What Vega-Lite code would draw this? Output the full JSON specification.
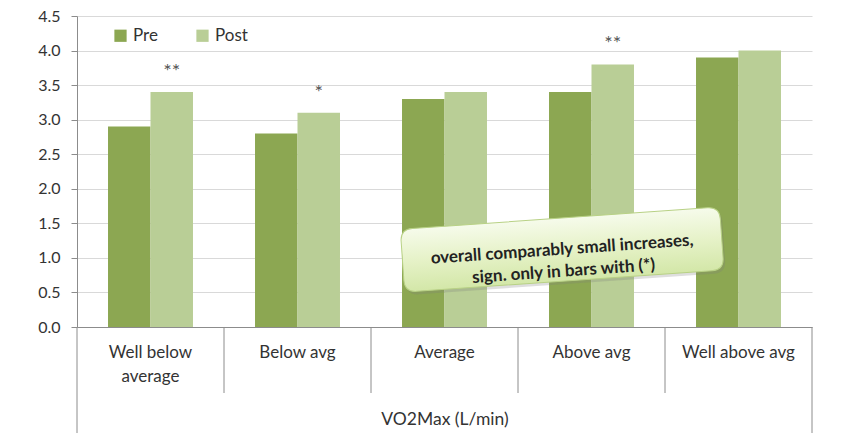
{
  "$schema": "https://vega.github.io/schema/vega-lite/v6.json",
  "width": 735,
  "height": 311,
  "autosize": {"type": "none"},
  "padding": {"left": 77, "top": 16, "right": 47, "bottom": 111},
  "background": "white",
  "config": {
    "font": "Lato",
    "view": {"stroke": null},
    "axisY": {
      "grid": true,
      "gridColor": "#d9d9d9",
      "domainColor": "#8c8c8c",
      "tickColor": "#8c8c8c",
      "tickSize": 6,
      "labelFontSize": 16,
      "labelColor": "#333333",
      "labelPadding": 11,
      "labelOverlap": false
    }
  },
  "datasets": {
    "vo2": [
      {"cat": "Well below average", "series": "Pre", "value": 2.9, "sig": ""},
      {"cat": "Well below average", "series": "Post", "value": 3.4, "sig": "**"},
      {"cat": "Below avg", "series": "Pre", "value": 2.8, "sig": ""},
      {"cat": "Below avg", "series": "Post", "value": 3.1, "sig": "*"},
      {"cat": "Average", "series": "Pre", "value": 3.3, "sig": ""},
      {"cat": "Average", "series": "Post", "value": 3.4, "sig": ""},
      {"cat": "Above avg", "series": "Pre", "value": 3.4, "sig": ""},
      {"cat": "Above avg", "series": "Post", "value": 3.8, "sig": "**"},
      {"cat": "Well above avg", "series": "Pre", "value": 3.9, "sig": ""},
      {"cat": "Well above avg", "series": "Post", "value": 4.0, "sig": ""}
    ],
    "dividers": [
      {"cat": "Well below average", "end": -1.534},
      {"cat": "Below avg", "end": -0.955},
      {"cat": "Average", "end": -0.955},
      {"cat": "Above avg", "end": -0.955},
      {"cat": "Well above avg", "end": -0.955}
    ],
    "closing": [
      {"cat": "Well above avg", "end": -1.534}
    ],
    "note": [
      {"cat": "Above avg", "y": 1.12, "text": "overall comparably  small increases,\nsign. only in bars with (*)"}
    ]
  },
  "layer": [
    {
      "data": {"name": "vo2"},
      "mark": {"type": "bar"},
      "encoding": {
        "x": {
          "field": "cat",
          "type": "nominal",
          "sort": null,
          "scale": {
            "type": "band",
            "domain": ["Well below average", "Below avg", "Average", "Above avg", "Well above avg"],
            "paddingInner": 0,
            "paddingOuter": 0
          },
          "title": "VO2Max (L/min)",
          "axis": {
            "ticks": false,
            "labelAngle": 0,
            "labelExpr": "datum.label == 'Well below average' ? ['Well below', 'average'] : datum.label",
            "labelFontSize": 17,
            "labelColor": "#333333",
            "labelPadding": 17,
            "labelLineHeight": 24,
            "domainColor": "#8c8c8c",
            "titleFontSize": 17.5,
            "titleFontWeight": "normal",
            "titleColor": "#333333",
            "titlePadding": 26
          }
        },
        "xOffset": {
          "field": "series",
          "type": "nominal",
          "sort": ["Pre", "Post"],
          "scale": {"paddingInner": 0, "paddingOuter": 0.73}
        },
        "y": {
          "field": "value",
          "type": "quantitative",
          "title": null,
          "scale": {"domain": [0, 4.5], "nice": false},
          "axis": {"values": [0, 0.5, 1, 1.5, 2, 2.5, 3, 3.5, 4, 4.5], "format": ".1f", "tickCount": 10}
        },
        "color": {
          "field": "series",
          "type": "nominal",
          "scale": {"domain": ["Pre", "Post"], "range": ["#8ca752", "#b9ce96"]},
          "legend": {
            "orient": "none",
            "legendX": 35,
            "legendY": 11,
            "direction": "horizontal",
            "title": null,
            "symbolType": "square",
            "symbolSize": 150,
            "symbolStrokeWidth": 0,
            "labelFontSize": 17,
            "labelColor": "#333333",
            "labelOffset": 4,
            "columnPadding": 36
          }
        }
      }
    },
    {
      "data": {"name": "vo2"},
      "transform": [{"filter": "datum.sig != ''"}],
      "mark": {"type": "text", "fontSize": 20, "color": "#555555", "baseline": "middle", "dy": -20},
      "encoding": {
        "x": {"field": "cat", "type": "nominal", "title": "VO2Max (L/min)"},
        "xOffset": {"field": "series", "type": "nominal", "sort": ["Pre", "Post"]},
        "y": {"field": "value", "type": "quantitative", "title": null, "axis": {"values": [0, 0.5, 1, 1.5, 2, 2.5, 3, 3.5, 4, 4.5], "format": ".1f"}},
        "text": {"field": "sig"}
      }
    },
    {
      "data": {"name": "dividers"},
      "mark": {"type": "rule", "color": "#8c8c8c", "strokeWidth": 1},
      "encoding": {
        "x": {"field": "cat", "type": "nominal", "bandPosition": 0, "title": "VO2Max (L/min)"},
        "y": {"field": "end", "type": "quantitative", "title": null, "axis": {"values": [0, 0.5, 1, 1.5, 2, 2.5, 3, 3.5, 4, 4.5], "format": ".1f"}},
        "y2": {"datum": 0}
      }
    },
    {
      "data": {"name": "closing"},
      "mark": {"type": "rule", "color": "#8c8c8c", "strokeWidth": 1},
      "encoding": {
        "x": {"field": "cat", "type": "nominal", "bandPosition": 1, "title": "VO2Max (L/min)"},
        "y": {"field": "end", "type": "quantitative", "title": null, "axis": {"values": [0, 0.5, 1, 1.5, 2, 2.5, 3, 3.5, 4, 4.5], "format": ".1f"}},
        "y2": {"datum": 0}
      }
    },
    {
      "data": {"name": "note"},
      "mark": {
        "type": "point",
        "shape": "M-0.925,-0.197 L0.925,-0.197 Q1,-0.197 1,-0.122 L1,0.122 Q1,0.197 0.925,0.197 L-0.925,0.197 Q-1,0.197 -1,0.122 L-1,-0.122 Q-1,-0.197 -0.925,-0.197 Z",
        "size": 102400,
        "angle": -4,
        "filled": true,
        "fill": "#7a7a7a",
        "opacity": 0.25,
        "xOffset": 2,
        "yOffset": 3
      },
      "encoding": {
        "x": {"field": "cat", "type": "nominal", "bandPosition": 0.3, "title": "VO2Max (L/min)"},
        "y": {"field": "y", "type": "quantitative", "title": null, "axis": {"values": [0, 0.5, 1, 1.5, 2, 2.5, 3, 3.5, 4, 4.5], "format": ".1f"}}
      }
    },
    {
      "data": {"name": "note"},
      "mark": {
        "type": "point",
        "shape": "M-0.925,-0.197 L0.925,-0.197 Q1,-0.197 1,-0.122 L1,0.122 Q1,0.197 0.925,0.197 L-0.925,0.197 Q-1,0.197 -1,0.122 L-1,-0.122 Q-1,-0.197 -0.925,-0.197 Z",
        "size": 102400,
        "angle": -4,
        "filled": true,
        "opacity": 1,
        "fill": {
          "gradient": "linear",
          "x1": 0, "y1": 0, "x2": 0, "y2": 1,
          "stops": [
            {"offset": 0, "color": "#f6fbeb"},
            {"offset": 0.5, "color": "#e6f2c8"},
            {"offset": 1, "color": "#d3e7a8"}
          ]
        },
        "stroke": "#b8d185",
        "strokeWidth": 1
      },
      "encoding": {
        "x": {"field": "cat", "type": "nominal", "bandPosition": 0.3, "title": "VO2Max (L/min)"},
        "y": {"field": "y", "type": "quantitative", "title": null, "axis": {"values": [0, 0.5, 1, 1.5, 2, 2.5, 3, 3.5, 4, 4.5], "format": ".1f"}}
      }
    },
    {
      "data": {"name": "note"},
      "mark": {
        "type": "text",
        "angle": -4,
        "align": "center",
        "baseline": "middle",
        "fontSize": 17,
        "fontWeight": "bold",
        "color": "#222222",
        "lineBreak": "\n",
        "lineHeight": 22
      },
      "encoding": {
        "x": {"field": "cat", "type": "nominal", "bandPosition": 0.3, "title": "VO2Max (L/min)"},
        "y": {"field": "y", "type": "quantitative", "title": null, "axis": {"values": [0, 0.5, 1, 1.5, 2, 2.5, 3, 3.5, 4, 4.5], "format": ".1f"}},
        "text": {"field": "text"}
      }
    }
  ]
}
